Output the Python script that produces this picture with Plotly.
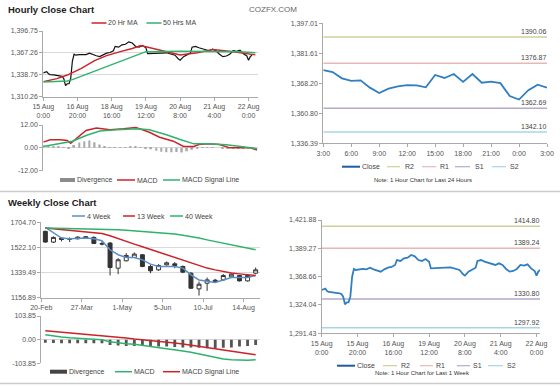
import plotly.graph_objects as go

W, H = 560, 386
FONT = "Liberation Sans, Arial, sans-serif"

# ---------------- data: hourly, last week ----------------
hour_ticks = [0, 20, 40, 60, 80, 100, 120]
hour_ticktext_tl = ["15 Aug<br>0:00", "16 Aug<br>20:00", "18 Aug<br>16:00", "19 Aug<br>12:00",
                    "20 Aug<br>8:00", "21 Aug<br>4:00", "22 Aug<br>0:00"]
hour_ticktext_br = ["15 Aug<br>0:00", "15 Aug<br>20:00", "16 Aug<br>16:00", "19 Aug<br>12:00",
                    "20 Aug<br>8:00", "21 Aug<br>4:00", "22 Aug<br>0:00"]
hour_idx = [0, 1, 2, 3, 4, 6, 8, 10, 11, 12, 13, 14, 15, 16, 17, 18, 19, 21, 23, 25,
            27, 29, 31, 33, 35, 37, 39, 41, 42, 44, 46, 48, 50, 52, 54, 56, 58, 60, 61, 63,
            66, 69, 72, 75, 77, 79, 80, 82, 84, 86, 87, 89, 91, 93, 95, 97, 99, 101, 103, 105,
            107, 109, 111, 113, 115, 117, 119, 120, 121, 122]
hour_close = [1341.3, 1342.5, 1342.8, 1340.2, 1339.0, 1338.6, 1338.2, 1337.5, 1336.7, 1333.6,
              1324.8, 1327.1, 1327.1, 1333.6, 1356.6, 1365.5, 1364.3, 1365.1, 1365.5, 1365.1,
              1367.0, 1365.1, 1363.6, 1362.4, 1365.1, 1367.0, 1367.8, 1370.1, 1375.8, 1374.7,
              1377.8, 1378.5, 1381.6, 1380.1, 1375.8, 1374.7, 1377.0, 1373.9, 1366.2, 1366.2,
              1366.2, 1367.0, 1367.4, 1365.5, 1364.3, 1359.3, 1357.8, 1362.4, 1364.3, 1367.0,
              1374.7, 1375.8, 1373.9, 1372.8, 1370.8, 1370.1, 1372.0, 1370.1, 1365.5, 1362.4,
              1363.2, 1365.5, 1370.1, 1369.3, 1370.8, 1366.2, 1363.2, 1357.8, 1362.4, 1364.3]
ma20_idx = [0, 8, 14, 22, 30, 37, 45, 52, 57, 65, 80, 90, 99, 110, 124]
ma20 = [1329.9, 1333.8, 1338.4, 1346.8, 1357.2, 1363.7, 1368.9, 1372.9, 1376.8, 1372.9,
        1364.7, 1367.6, 1371.6, 1369.0, 1364.7]
ma50_idx = [0, 14, 17, 60, 80, 100, 115, 124]
ma50 = [1329.4, 1330.6, 1332.5, 1368.9, 1369.5, 1369.5, 1368.9, 1367.6]

# hourly MACD
macd_h_idx = [0, 4, 10, 14, 16, 20, 25, 31, 39, 47, 54, 58, 62, 68, 76, 82, 88, 91, 96, 103, 109, 115, 121, 125]
macd_h = [3.0, 4.2, 4.2, 3.9, 2.4, 5.6, 9.1, 10.4, 9.5, 10.0, 10.7, 9.5, 8.2, 5.6, 3.5, 0.7,
          0.7, 1.7, 2.1, 1.7, 0.0, 0.0, 0.0, -1.1]
sig_h_idx = [0, 10, 17, 25, 33, 43, 55, 62, 72, 80, 88, 96, 107, 119, 125]
sig_h = [0.7, 2.4, 3.5, 6.5, 8.8, 9.5, 10.0, 9.5, 6.9, 4.4, 2.1, 2.1, 1.6, 0.3, -0.5]
div_h_idx = [0, 3, 6, 9, 12, 15, 18, 21, 24, 27, 30, 33, 36, 39, 42, 45, 48, 51, 54, 57, 60,
             63, 66, 69, 72, 75, 78, 81, 84, 87, 90, 93, 96, 99, 102, 105, 108, 111, 114, 117, 120, 123]
div_h = [1.5, 1.2, 1.0, 0.8, 0.3, -0.5, 1.5, 2.8, 3.5, 3.8, 3.0, 1.8, 0.8, 0.3, 0.2, 0.3, 0.4,
         0.5, 0.6, 0.2, -0.3, -0.8, -1.5, -2.0, -2.3, -2.3, -2.2, -2.4, -1.8, -1.0, -0.3, 0.2,
         0.1, 0.1, 0.0, -0.2, -0.4, -0.3, -0.2, -0.2, -0.3, -0.5]

# ---------------- data: last 24 hours ----------------
day_ticks = [0, 3, 6, 9, 12, 15, 18, 21, 24]
day_ticktext = ["3:00", "6:00", "9:00", "12:00", "15:00", "18:00", "21:00", "0:00", "3:00"]
day_close = [1373.4, 1372.4, 1369.2, 1367.9, 1368.2, 1364.5, 1361.8, 1364.0, 1365.2, 1365.8,
             1365.7, 1364.7, 1370.9, 1369.4, 1371.4, 1367.4, 1371.4, 1367.0, 1367.5, 1366.8,
             1360.3, 1358.5, 1363.2, 1366.0, 1364.5]
day_levels = [1390.06, 1376.87, 1354.10, 1342.10]
day_level_text = ["1390.06", "1376.87", "1362.69", "1342.10"]
day_yticktext = ["1,336.39", "1,360.80", "1,368.20", "1,381.61", "1,397.01"]

week_levels = [1414.80, 1389.24, 1330.80, 1297.92]
week_level_text = ["1414.80", "1389.24", "1330.80", "1297.92"]
week_yticktext = ["1,291.43", "1,324.04", "1,368.66", "1,389.27", "1,421.88"]
level_names = ["R2", "R1", "S1", "S2"]
level_colors = ["#cfcf9c", "#e7b8b8", "#b7a9cc", "#a8d5e6"]

# ---------------- data: weekly ----------------
wk_ticktext = ["20-Feb", "27-Mar", "1-May", "5-Jun", "10-Jul", "14-Aug"]
wk_ticks = [-0.5, 4.5, 9.5, 14.5, 19.5, 24.5]
wk_idx = list(range(27))
wk_open = [1638.8, 1561.0, 1590.0, 1583.0, 1585.0, 1600.0, 1595.0, 1551.0, 1553.8, 1371.5,
           1425.0, 1449.0, 1468.8, 1383.7, 1359.4, 1395.8, 1403.0, 1383.7, 1335.0, 1220.9,
           1262.0, 1284.0, 1286.5, 1308.3, 1318.0, 1279.0, 1335.0]
wk_high = [1643.7, 1602.4, 1595.1, 1595.1, 1602.4, 1604.8, 1602.4, 1566.0, 1561.1, 1444.5,
           1480.9, 1485.8, 1473.6, 1395.8, 1400.7, 1420.2, 1415.3, 1391.0, 1342.4, 1274.4,
           1303.5, 1293.8, 1327.8, 1335.1, 1322.9, 1327.8, 1376.4]
wk_low = [1556.2, 1553.8, 1566.0, 1561.1, 1580.6, 1585.4, 1546.5, 1536.8, 1318.1, 1327.8,
          1420.2, 1444.5, 1378.8, 1335.1, 1352.1, 1391.0, 1371.5, 1335.1, 1220.9, 1172.3,
          1206.3, 1269.5, 1279.2, 1303.5, 1274.4, 1274.4, 1327.8]
wk_close = [1561.1, 1595.0, 1580.0, 1583.0, 1597.0, 1590.0, 1551.0, 1547.0, 1376.4, 1432.3,
            1463.9, 1473.6, 1383.7, 1352.0, 1391.0, 1410.4, 1391.0, 1342.4, 1225.8, 1255.0,
            1286.5, 1274.0, 1318.0, 1327.8, 1279.0, 1318.0, 1359.4]
ma4 = [1668, 1627, 1590, 1585, 1590, 1590, 1585, 1571, 1505, 1469, 1449, 1449, 1432, 1401,
       1384, 1384, 1384, 1372, 1323, 1286, 1274, 1267, 1286, 1303, 1303, 1303, 1318]
ma13 = [1663, 1658, 1653, 1649, 1644, 1639, 1634, 1624, 1607, 1585, 1566, 1546, 1527, 1508,
        1488, 1469, 1449, 1430, 1408, 1389, 1372, 1359, 1347, 1337, 1330, 1323, 1318]
ma40 = [1663, 1662, 1661, 1660, 1659, 1658, 1657, 1655, 1653, 1650, 1647, 1643, 1640, 1636,
        1632, 1626, 1619, 1611, 1602, 1590, 1577, 1565, 1552, 1540, 1528, 1516, 1506]
wk_macd = [21.7, 15.9, 11.6, 8.6, 5.7, 4.2, 2.8, -0.1, -8.9, -14.7, -17.7, -20.6, -25.0, -30.8,
           -35.2, -39.6, -44.0, -49.8, -55.6, -62.9, -73.2, -80.5, -84.9, -87.8, -89.3, -90.7, -87.8]
wk_signal = [39.3, 36.4, 33.4, 30.5, 27.6, 24.7, 21.7, 18.8, 15.9, 11.6, 7.2, 2.8, -0.1, -4.5,
             -7.4, -10.4, -14.7, -19.1, -23.5, -27.9, -33.7, -39.6, -45.4, -51.3, -55.6, -61.5, -65.9]
wk_div = [-14, -15, -16, -16, -16, -16, -16, -16, -24, -26, -28, -28, -28, -30, -30, -30, -32,
          -34, -34, -36, -38, -38, -36, -34, -30, -28, -24]

RED = "#cc2229"
GREEN = "#2db36b"
BLUE = "#2f7fc1"
BLUE_DARK = "#1f5c9c"
MA4_BLUE = "#5b8fc7"


def px(x):
    return x / W


def py(y):
    return 1 - y / H


fig = go.Figure()

# ---- top-left: hourly close with MAs
fig.add_trace(go.Scatter(x=hour_idx, y=hour_close, mode="lines", line=dict(color="#111", width=1.2),
                         xaxis="x", yaxis="y"))
fig.add_trace(go.Scatter(x=ma20_idx, y=ma20, mode="lines", name="20 Hr MA", line=dict(color=RED, width=1.5),
                         xaxis="x", yaxis="y"))
fig.add_trace(go.Scatter(x=ma50_idx, y=ma50, mode="lines", name="50 Hrs MA", line=dict(color=GREEN, width=1.5),
                         xaxis="x", yaxis="y"))

# ---- top-left MACD
fig.add_trace(go.Bar(x=div_h_idx, y=div_h, name="Divergence", marker=dict(color="#a8a8a8", line_width=0),
                     width=1.0, xaxis="x2", yaxis="y2"))
fig.add_trace(go.Scatter(x=macd_h_idx, y=macd_h, mode="lines", name="MACD", line=dict(color=RED, width=1.5),
                         xaxis="x2", yaxis="y2"))
fig.add_trace(go.Scatter(x=sig_h_idx, y=sig_h, mode="lines", name="MACD Signal Line",
                         line=dict(color=GREEN, width=1.5), xaxis="x2", yaxis="y2"))

# ---- top-right: 24h close with levels
for nm, v, c in zip(level_names, day_levels, level_colors):
    fig.add_trace(go.Scatter(x=[day_ticks[0], day_ticks[-1]], y=[v, v], mode="lines", name=nm,
                             line=dict(color=c, width=1.5), xaxis="x3", yaxis="y3"))
fig.add_trace(go.Scatter(x=list(range(len(day_close))), y=day_close, mode="lines", name="Close",
                         line=dict(color=BLUE, width=1.8), xaxis="x3", yaxis="y3"))

# ---- bottom-left: weekly candles + MAs
fig.add_trace(go.Candlestick(x=wk_idx, open=wk_open, high=wk_high, low=wk_low, close=wk_close,
                             increasing=dict(line=dict(color="#333", width=1), fillcolor="#ffffff"),
                             decreasing=dict(line=dict(color="#333", width=1), fillcolor="#333333"),
                             whiskerwidth=0, xaxis="x4", yaxis="y4"))
fig.add_trace(go.Scatter(x=wk_idx, y=ma4, mode="lines", name="4 Week", line=dict(color=MA4_BLUE, width=1.5),
                         xaxis="x4", yaxis="y4"))
fig.add_trace(go.Scatter(x=wk_idx, y=ma13, mode="lines", name="13 Week", line=dict(color=RED, width=1.5),
                         xaxis="x4", yaxis="y4"))
fig.add_trace(go.Scatter(x=wk_idx, y=ma40, mode="lines", name="40 Week", line=dict(color=GREEN, width=1.5),
                         xaxis="x4", yaxis="y4"))

# ---- bottom-left MACD
fig.add_trace(go.Bar(x=wk_idx, y=wk_div, name="Divergence", marker=dict(color="#555555", line_width=0),
                     width=0.35, xaxis="x5", yaxis="y5"))
fig.add_trace(go.Scatter(x=wk_idx, y=wk_macd, mode="lines", name="MACD", line=dict(color=GREEN, width=1.5),
                         xaxis="x5", yaxis="y5"))
fig.add_trace(go.Scatter(x=wk_idx, y=wk_signal, mode="lines", name="MACD Signal Line",
                         line=dict(color=RED, width=1.5), xaxis="x5", yaxis="y5"))

# ---- bottom-right: week close with levels
for nm, v, c in zip(level_names, week_levels, level_colors):
    fig.add_trace(go.Scatter(x=[hour_ticks[0], 122], y=[v, v], mode="lines", name=nm,
                             line=dict(color=c, width=1.5), xaxis="x6", yaxis="y6"))
fig.add_trace(go.Scatter(x=hour_idx, y=hour_close, mode="lines", name="Close",
                         line=dict(color=BLUE, width=1.8), xaxis="x6", yaxis="y6"))

AX = dict(showline=True, linecolor="#a9a9a9", linewidth=1, ticks="outside", ticklen=3,
          tickcolor="#a9a9a9", tickfont=dict(size=7, color="#555", family=FONT), zeroline=False,
          fixedrange=True, automargin=False)


def ax(**kw):
    d = dict(AX)
    d.update(kw)
    return d


GRID = "#d9d9d9"


def ticks5(lo, hi):
    return [lo + (hi - lo) * k / 4 for k in range(5)]


fig.update_layout(
    width=W, height=H, margin=dict(l=0, r=0, t=0, b=0, autoexpand=False),
    paper_bgcolor="white", plot_bgcolor="white",
    font=dict(family=FONT, size=7, color="#555"), showlegend=False,
    xaxis=ax(domain=[px(43.3), px(258.3)], range=[0, 125.7], tickvals=hour_ticks, ticktext=hour_ticktext_tl,
             showgrid=False, anchor="y"),
    yaxis=ax(domain=[py(96.7), py(31)], range=[1310.26, 1395.76],
             tickvals=[1310.26, 1338.76, 1367.26, 1395.76],
             ticktext=["1,310.26", "1,338.76", "1,367.26", "1,396.75"], showgrid=True, gridcolor=GRID, anchor="x"),
    xaxis2=ax(domain=[px(43.3), px(258.3)], range=[0, 125.7], showticklabels=False, ticks="", showline=False,
              showgrid=False, anchor="y2"),
    yaxis2=ax(domain=[py(170.7), py(125)], range=[-12, 12], tickvals=[-12, 0, 12],
              ticktext=["-12.00", "0.00", "12.00"], showgrid=True, gridcolor=GRID, anchor="x2"),
    xaxis3=ax(domain=[px(323.3), px(547)], range=[0, 24], tickvals=day_ticks, ticktext=day_ticktext,
              showgrid=False, anchor="y3"),
    yaxis3=ax(domain=[py(143.3), py(23.3)], range=[1336.39, 1397.01], tickvals=ticks5(1336.39, 1397.01),
              ticktext=day_yticktext, showgrid=False, anchor="x3"),
    xaxis4=ax(domain=[px(41.3), px(259.7)], range=[-0.5, 26.5], tickvals=wk_ticks, ticktext=wk_ticktext,
              showgrid=False, anchor="y4", rangeslider=dict(visible=False)),
    yaxis4=ax(domain=[py(297.7), py(222.3)], range=[1156.89, 1704.70],
              tickvals=[1156.89, 1339.49, 1522.10, 1704.70],
              ticktext=["1156.89", "1339.49", "1522.10", "1704.70"], showgrid=True, gridcolor=GRID, anchor="x4"),
    xaxis5=ax(domain=[px(41.3), px(259.7)], range=[-0.5, 26.5], showticklabels=False, ticks="",
              showline=False, showgrid=False, anchor="y5"),
    yaxis5=ax(domain=[py(363.3), py(316)], range=[-103.85, 103.85], tickvals=[-103.85, 0, 103.85],
              ticktext=["-103.85", "0.00", "103.85"], showgrid=True, gridcolor=GRID, anchor="x5"),
    xaxis6=ax(domain=[px(321.7), px(540)], range=[0, 121.95], tickvals=hour_ticks, ticktext=hour_ticktext_br,
              showgrid=False, anchor="y6"),
    yaxis6=ax(domain=[py(333.3), py(220)], range=[1291.43, 1421.88], tickvals=ticks5(1291.43, 1421.88),
              ticktext=week_yticktext, showgrid=False, anchor="x6"),
)

ann = []
shapes = []


def text(t, x, y, size=7, color="#333", anchor="left", bold=False):
    ann.append(dict(text=("<b>%s</b>" % t) if bold else t, x=px(x), y=py(y), xref="paper", yref="paper",
                    xanchor=anchor, yanchor="middle", showarrow=False, borderpad=0,
                    font=dict(size=size, color=color, family=FONT)))


# legend keys: (label, colour, sample x0, sample x1, text x, line width)
def legend_row(y, items):
    for label, color, x0, x1, tx, lw in items:
        shapes.append(dict(type="line", xref="paper", yref="paper", x0=px(x0), x1=px(x1), y0=py(y), y1=py(y),
                           line=dict(color=color, width=lw)))
        text(label, tx, y, size=7, color="#444")


legend_row(23, [("20 Hr MA", RED, 91.5, 106.5, 107, 1.5), ("50 Hrs MA", GREEN, 146.5, 161.5, 162, 1.5)])
legend_row(180, [("Divergence", "#8c8c8c", 60, 75, 75.5, 4), ("MACD", RED, 117, 135, 135.5, 1.5),
                 ("MACD Signal Line", GREEN, 163, 180, 180.5, 1.5)])
legend_row(166.7, [("Close", BLUE_DARK, 342, 360, 361, 2), ("R2", level_colors[0], 387, 400, 404, 1.2),
                   ("R1", level_colors[1], 422, 436, 439, 1.2), ("S1", level_colors[2], 455, 470, 474, 1.2),
                   ("S2", level_colors[3], 492, 506, 509, 1.2)])
legend_row(216, [("4 Week", MA4_BLUE, 72, 85, 86, 1.5), ("13 Week", RED, 123, 135, 136, 1.5),
                 ("40 Week", GREEN, 170, 183, 184, 1.5)])
legend_row(371.7, [("Divergence", "#444444", 50, 67, 67.5, 4), ("MACD", GREEN, 115, 132, 132.5, 1.5),
                   ("MACD Signal Line", RED, 163, 180, 180.5, 1.5)])
legend_row(365.7, [("Close", BLUE_DARK, 337, 355, 356, 2), ("R2", level_colors[0], 383, 397, 400, 1.2),
                   ("R1", level_colors[1], 420, 433, 435, 1.2), ("S1", level_colors[2], 457, 470, 472, 1.2),
                   ("S2", level_colors[3], 488, 503, 506, 1.2)])

text("Hourly Close Chart", 7, 9.5, size=9.5, color="#222", bold=True)
text("COZFX.COM", 248, 10, size=8, color="#666")
text("Weekly Close Chart", 7, 202.5, size=9.5, color="#222", bold=True)
text("Note: 1 Hour Chart for Last 24 Hours", 423, 179.5, size=6, anchor="center")
text("Note: 1 Hour Chart for Last 1 Week", 422, 373, size=6, anchor="center")

for v, t in zip(day_levels, day_level_text):
    ann.append(dict(text=t, x=1, y=v, xref="x3 domain", yref="y3", xanchor="right", yanchor="bottom",
                    yshift=1, showarrow=False, borderpad=0, font=dict(size=7, color="#444", family=FONT)))
for v, t in zip(week_levels, week_level_text):
    ann.append(dict(text=t, x=1, y=v, xref="x6 domain", yref="y6", xanchor="right", yanchor="bottom",
                    yshift=1, showarrow=False, borderpad=0, font=dict(size=7, color="#444", family=FONT)))

shapes.append(dict(type="line", xref="paper", yref="paper", x0=0, x1=1, y0=py(191.5), y1=py(191.5),
                   line=dict(color="#cccccc", width=1.5)))
shapes.append(dict(type="line", xref="paper", yref="paper", x0=0, x1=1, y0=py(383.5), y1=py(383.5),
                   line=dict(color="#cccccc", width=1.5)))

fig.update_layout(annotations=ann, shapes=shapes)

fig.write_html("out.html", config={"displayModeBar": False},
               post_script="document.body.style.margin='0';document.body.style.padding='0';")
